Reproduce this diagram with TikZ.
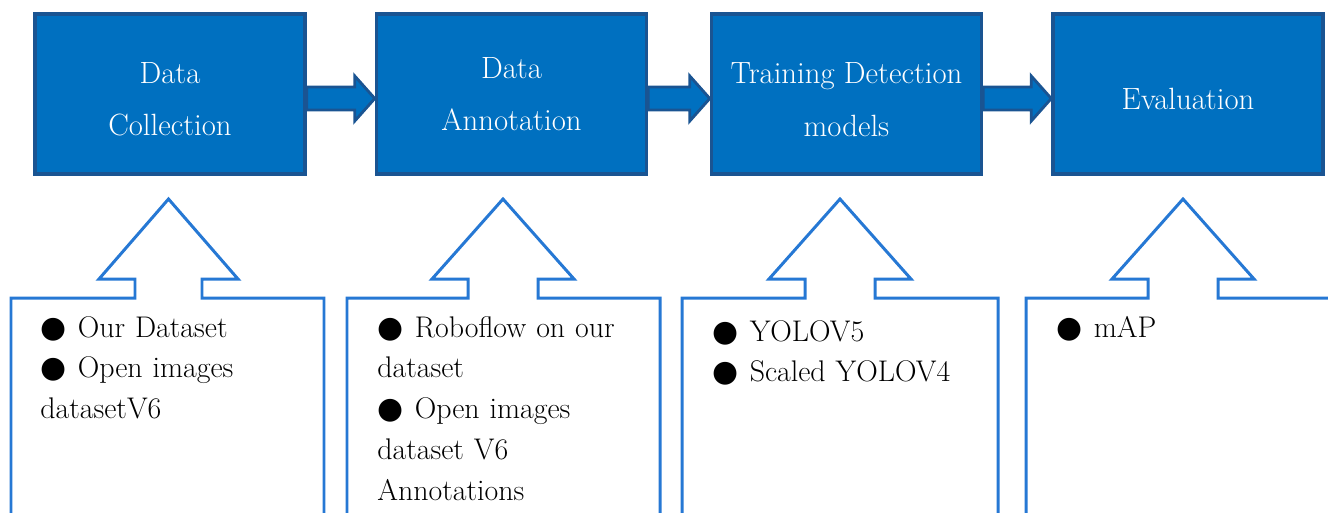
\documentclass[tikz,border=0pt]{standalone}
\usepackage{fontspec}
\newfontfamily\dotfont{DejaVu Sans}
\usetikzlibrary{calc}

\definecolor{stageblue}{RGB}{0,112,192}
\definecolor{stageedge}{RGB}{26,84,146}
\definecolor{noteblue}{RGB}{38,120,212}

\tikzset{
    stage/.style={draw=stageedge, line width=2pt, fill=stageblue, text=white,
        minimum width=5.4cm, minimum height=3.2cm, align=center,
        font=\fontsize{17.5}{30}\selectfont},
    flow/.style={draw=stageedge, line width=1.6pt, fill=stageblue, line join=miter},
    note/.style={draw=noteblue, line width=1.7pt, line join=miter},
    notetext/.style={anchor=base west, align=left, text width=6cm, inner sep=0pt,
        font=\fontsize{17}{23.3}\selectfont},
}

\newcommand{\dotitem}{{\dotfont ●}\hspace{0.38em}}
\newcommand{\pushdown}{\rule{0pt}{18pt}}

% block arrow between two stages
\newcommand{\flowarrow}[2]{%
    \draw[flow] ($(#1.east)+(0,-7)$) -- ($(#2.west)+(-20,-7)$) -- ($(#2.west)+(-20,-18)$)
        -- ($(#2.west)+(0,4.5)$) -- ($(#2.west)+(-20,27)$) -- ($(#2.west)+(-20,16)$)
        -- ($(#1.east)+(0,16)$) -- cycle;}

% open box with an up arrow: left, right, stem left, stem right
\newcommand{\upnote}[4]{%
    \draw[note] (#1,530) -- (#1,298) -- (#3,298) -- (#3,279) -- (#3-36,279)
        -- ({(#3+#4)/2},199) -- (#4+36,279) -- (#4,279) -- (#4,298)
        -- (#2,298) -- (#2,530);}

\begin{document}
\begin{tikzpicture}[x=0.02cm, y=-0.02cm]
    \clip (0,0) rectangle (1328,512);
    \useasboundingbox (0,0) rectangle (1328,512);

    % stages
    \node[stage] (collect) at (170,94) {\pushdown Data\\Collection};
    \node[stage] (annot) at (511.5,94) {Data\\Annotation};
    \node[stage] (train) at (846.5,94) {\pushdown Training Detection\\models};
    \node[stage] (eval) at (1188,94) {\pushdown Evaluation};

    \flowarrow{collect}{annot}
    \flowarrow{annot}{train}
    \flowarrow{train}{eval}

    % notes below
    \upnote{11}{324}{135}{202}
    \upnote{347}{660}{468}{538}
    \upnote{682}{998}{805}{875}
    \upnote{1026}{1345}{1148}{1218}

    \node[notetext] (collectnote) at (40,337)
        {\dotitem Our Dataset\\\dotitem Open images\\datasetV6};
    \node[notetext] (annotnote) at (377,337)
        {\dotitem Roboflow on our\\dataset\\\dotitem Open images\\dataset V6\\Annotations};
    \node[notetext] (trainnote) at (712,341)
        {\dotitem YOLOV5\\\dotitem Scaled YOLOV4};
    \node[notetext] (evalnote) at (1056,337)
        {\dotitem mAP};
\end{tikzpicture}
\end{document}
